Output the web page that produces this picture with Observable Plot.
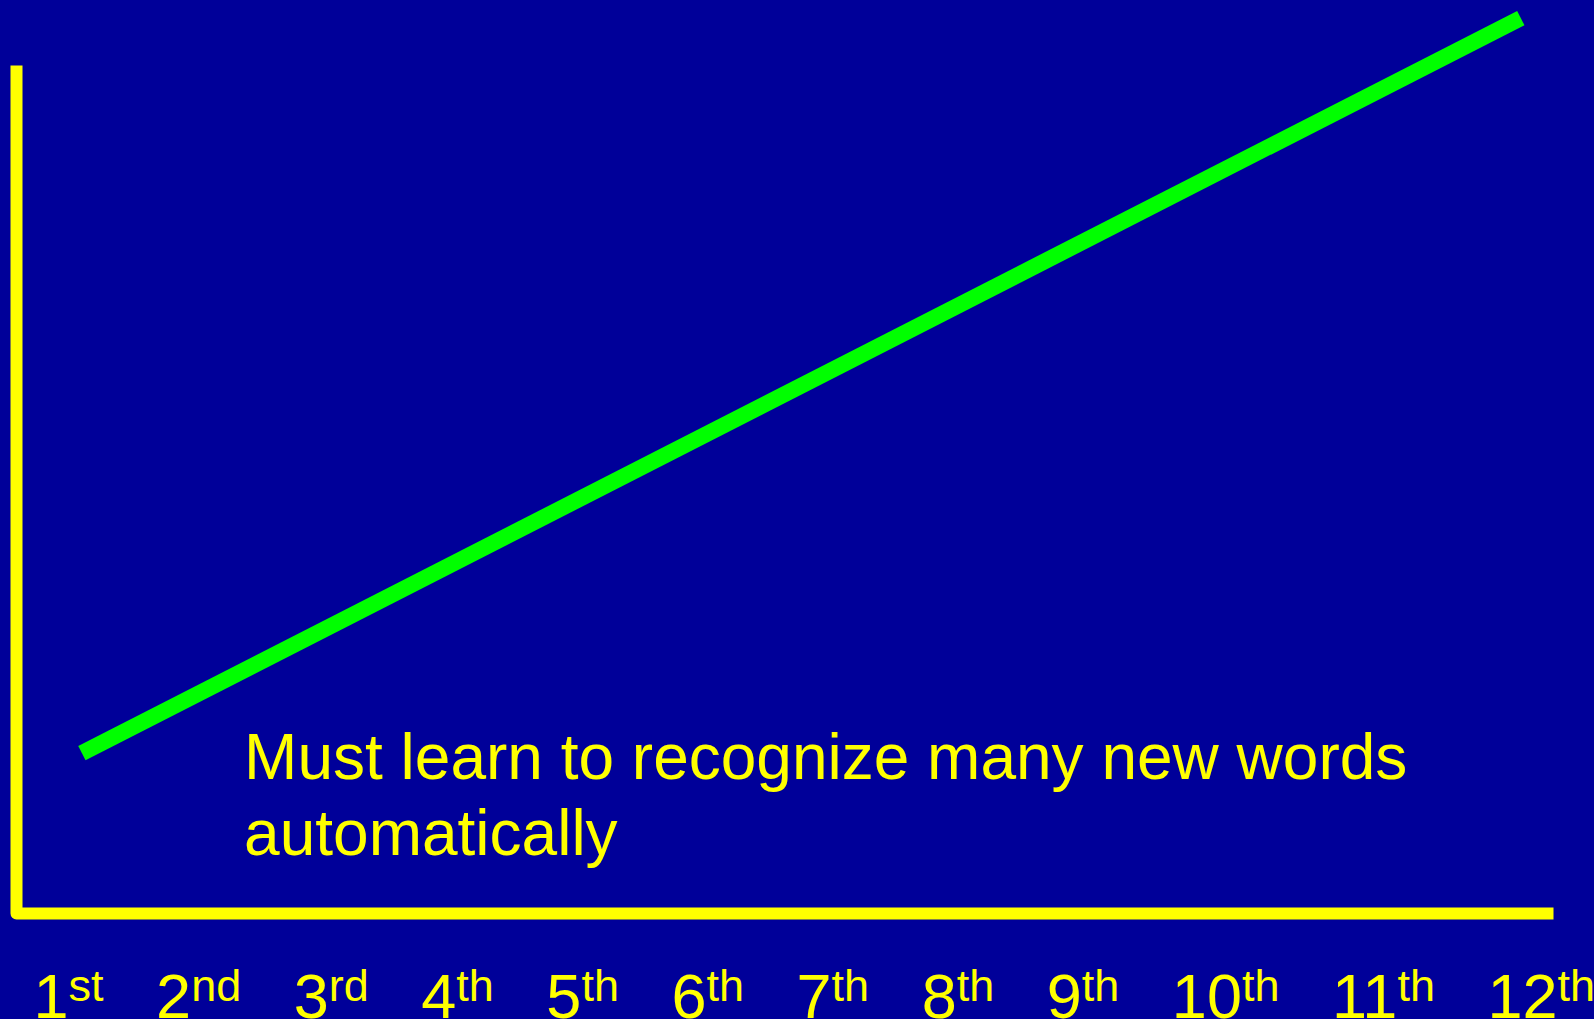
<!DOCTYPE html>
<html>
<head>
<meta charset="utf-8">
<script src="https://cdn.jsdelivr.net/npm/d3@7"></script>
<script src="https://cdn.jsdelivr.net/npm/@observablehq/plot@0.6"></script>
<style>
  html, body { margin: 0; padding: 0; background: #000099; overflow: hidden; }
  #chart svg { display: block; }
</style>
</head>
<body>
<div id="chart"></div>
<script>
// ---- data ----
const gradeNumbers = ["1", "2", "3", "4", "5", "6", "7", "8", "9", "10", "11", "12"];
const gradeSuffixes = ["st", "nd", "rd", "th", "th", "th", "th", "th", "th", "th", "th", "th"];
const trendGrades = [1, 12];
const trendValues = [18.9, 105.6];
const axisGrades = [0.5, 0.5, 12.25];
const axisValues = [100, 0, 0];
const annotationLines = ["Must learn to recognize many new words", "automatically"];

const YELLOW = "#ffff00";
const GREEN = "#00ff00";
const BG = "#000099";
const FONT = "'Liberation Sans', Arial, Helvetica, sans-serif";

const axisData = axisGrades.map((g, i) => ({grade: g, value: axisValues[i]}));
const trendData = trendGrades.map((g, i) => ({grade: g, value: trendValues[i]}));
const annotationData = [{grade: 2.24, value: 22.2, label: annotationLines.join("\n")}];
const gradeLabelText = gradeNumbers.map((n, i) => n + gradeSuffixes[i]).join("\u00A0\u00A0\u00A0");

const chart = Plot.plot({
  width: 1594,
  height: 1019,
  margin: 0,
  style: {background: BG, fontFamily: FONT},
  x: {domain: [0.5, 12.25], range: [16, 1553], axis: null},
  y: {domain: [0, 100], range: [913, 65], axis: null},
  marks: [
    Plot.line(axisData, {x: "grade", y: "value", stroke: YELLOW, strokeWidth: 12,
      strokeLinejoin: "round", strokeLinecap: "butt"}),
    Plot.line(trendData, {x: "grade", y: "value", stroke: GREEN, strokeWidth: 16,
      strokeLinecap: "butt"}),
    Plot.text(annotationData, {x: "grade", y: "value", text: "label", textAnchor: "start",
      lineAnchor: "top", lineHeight: 1.19, fontSize: 64, fill: YELLOW}),
    Plot.text([gradeLabelText], {frameAnchor: "bottom-left", textAnchor: "start",
      lineAnchor: "bottom", dx: 33, dy: -2, fontSize: 63, fill: YELLOW})
  ]
});

// Turn the grade label line into numbers with superscript suffixes
const ns = "http://www.w3.org/2000/svg";
const labelText = Array.from(chart.querySelectorAll("text"))
  .find(t => t.textContent === gradeLabelText);
if (labelText) {
  labelText.textContent = "";
  gradeNumbers.forEach((n, i) => {
    const num = document.createElementNS(ns, "tspan");
    num.textContent = (i ? "\u00A0\u00A0\u00A0" : "") + n;
    if (i) num.setAttribute("dy", "17");
    labelText.appendChild(num);
    const sup = document.createElementNS(ns, "tspan");
    sup.textContent = gradeSuffixes[i];
    sup.setAttribute("font-size", "45");
    sup.setAttribute("dy", "-17");
    labelText.appendChild(sup);
  });
}

document.getElementById("chart").appendChild(chart);
</script>
</body>
</html>
